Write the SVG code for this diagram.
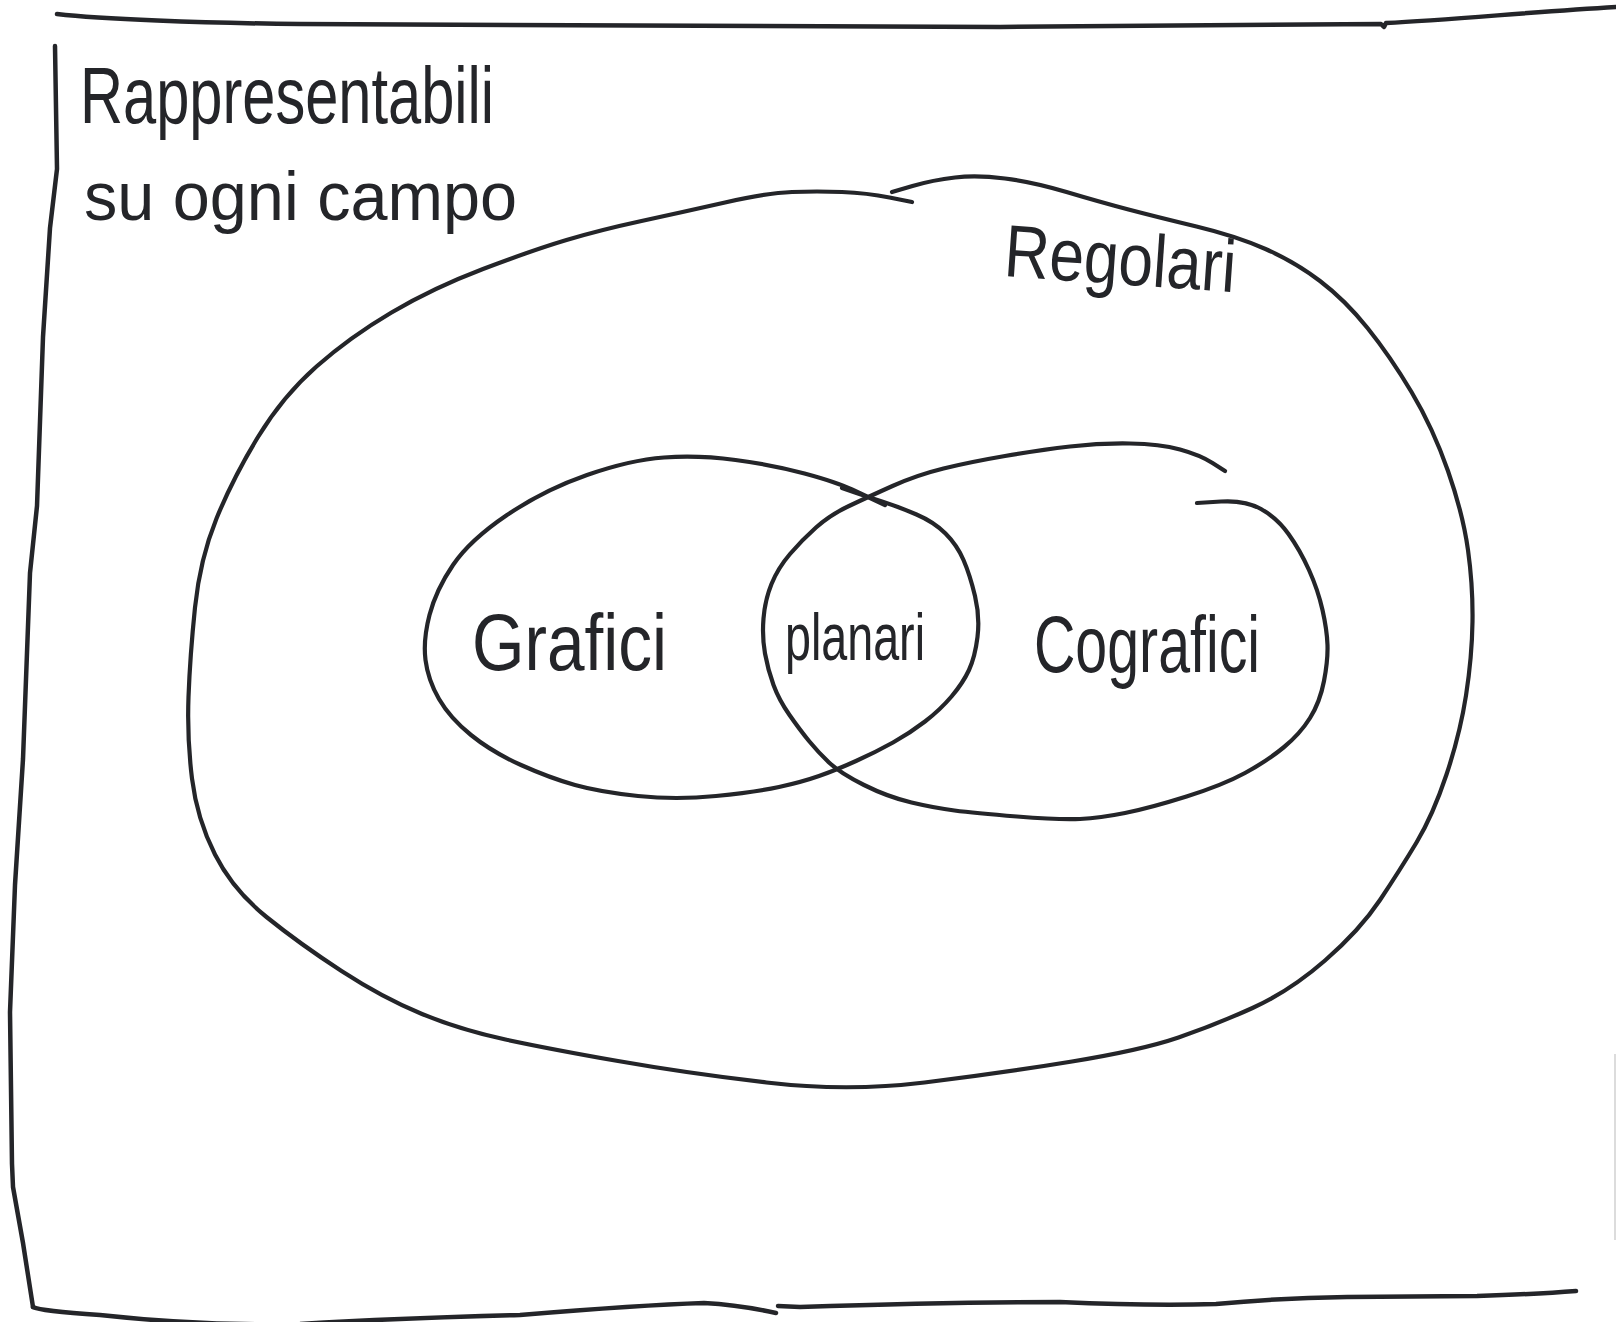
<svg xmlns="http://www.w3.org/2000/svg" width="1616" height="1322" viewBox="0 0 1616 1322">
  <style>
    .ink { fill: none; stroke: #242529; stroke-width: 4.2; stroke-linecap: round; stroke-linejoin: round; }
    .frame { stroke-width: 4.5; }
    .faint { fill: none; stroke: #d0d0d0; stroke-width: 1.5; }
    .hand { font-family: "Liberation Sans", "DejaVu Sans", sans-serif; fill: #242529; }
  </style>
  <rect width="1616" height="1322" fill="#ffffff"/>

  <g id="universe">
    <path class="ink frame" d="M 57,14 C 100,19 200,23 300,24 L 1000,27 L 1381,24 L 1384,27 L 1386,23 C 1450,20 1530,12 1616,7"/>
    <path class="ink frame" d="M 55,46 L 57,169 L 50,228 L 43,337 L 37,506 L 30,573 L 23,759 L 15,885 L 10,1012 L 12,1164 L 13,1187 L 23,1243 L 33,1307"/>
    <path class="ink frame" d="M 33,1307 Q 40,1311 100,1315 Q 200,1326 300,1324 Q 400,1318 520,1315 Q 640,1305 704,1303 Q 740,1305 776,1313"/>
    <path class="ink frame" d="M 778,1306 L 800,1307 Q 950,1302 1060,1302 Q 1150,1306 1216,1304 Q 1280,1298 1347,1297 L 1477,1296 Q 1540,1294 1576,1291"/>
    <path class="faint" d="M 1615,1054 L 1615,1240"/>
    <text class="hand" x="80" y="123" font-size="80" textLength="414" lengthAdjust="spacingAndGlyphs">Rappresentabili</text>
    <text class="hand" x="84" y="220" font-size="68" textLength="433" lengthAdjust="spacingAndGlyphs">su ogni campo</text>
  </g>

  <g id="regolari">
    <path class="ink" d="M 892,192 L 912.5,186 Q 933,180 955,177.5 Q 977,175 1005,178.5 Q 1033,182 1066.5,192 Q 1100,202 1128.5,209.5 Q 1157,217 1196.5,226.5 Q 1236,236 1265.5,249 Q 1295,262 1320,281 Q 1345,300 1367.5,328 Q 1390,356 1411.5,392 Q 1433,428 1448,471 Q 1463,514 1468,550 Q 1473,586 1472.5,621.5 Q 1472,657 1466,695.5 Q 1460,734 1446.5,774.5 Q 1433,815 1416.5,842.5 Q 1400,870 1380,900 Q 1360,930 1325,960.5 Q 1290,991 1252.5,1008 Q 1215,1025 1178.5,1037.5 Q 1142,1050 1072,1061.5 Q 1002,1073 924.5,1082.5 Q 847,1092 766.5,1082.5 Q 686,1073 618,1061 Q 550,1049 505.5,1039.5 Q 461,1030 422,1014 Q 383,998 341.5,971 Q 300,944 266.5,917 Q 233,890 215,854.5 Q 197,819 192,778.5 Q 187,738 188.5,697 Q 190,656 195,607.5 Q 200,559 216.5,518.5 Q 233,478 258,437 Q 283,396 316.5,366.5 Q 350,337 391.5,312.5 Q 433,288 483,269 Q 533,250 566.5,240 Q 600,230 641.5,221 Q 683,212 725,202.5 Q 767,193 792,192 Q 817,191 842,192 Q 867,193 889.5,197.5 L 912,202"/>
    <text class="hand" x="1003" y="276" font-size="74" textLength="232" lengthAdjust="spacingAndGlyphs" transform="rotate(4 1003 276)">Regolari</text>
  </g>

  <g id="grafici">
    <path class="ink" d="M 842,488 L 855,492.5 Q 868,497 883.5,502 Q 899,507 916.5,514.5 Q 934,522 945.5,533.5 Q 957,545 963.5,560 Q 970,575 975,596 Q 980,617 977.5,637 Q 975,657 969,670 Q 963,683 951.5,696.5 Q 940,710 925,721.5 Q 910,733 893,742.5 Q 876,752 856,761 Q 836,770 819,776 Q 802,782 779,787 Q 756,792 716,796 Q 676,800 638,796 Q 600,792 575,785 Q 550,778 521,765 Q 492,752 471,735 Q 450,718 439,699 Q 428,680 425.5,660 Q 423,640 429.5,615 Q 436,590 453,565 Q 470,540 507,515 Q 544,490 587,475 Q 630,460 664,457.5 Q 698,455 735.5,460 Q 773,465 804.5,473.5 Q 836,482 852,489.5 Q 868,497 885,505"/>
    <text class="hand" x="472" y="670" font-size="80" textLength="195" lengthAdjust="spacingAndGlyphs">Grafici</text>
  </g>

  <g id="cografici">
    <path class="ink" d="M 1225,471 L 1212.5,463 Q 1200,455 1180,449.5 Q 1160,444 1130,443.5 Q 1100,443 1070,446.5 Q 1040,450 1005,456 Q 970,462 943.5,468.5 Q 917,475 892.5,486 Q 868,497 849,506 Q 830,515 816,527.5 Q 802,540 790,554 Q 778,568 771.5,584 Q 765,600 763.5,618.5 Q 762,637 765,653.5 Q 768,670 773.5,685 Q 779,700 789.5,715 Q 800,730 809,741 Q 818,752 829,762.5 Q 840,773 864,785 Q 888,797 911.5,802.5 Q 935,808 954.5,810.5 Q 974,813 1017,816.5 Q 1060,820 1080,819 Q 1100,818 1125,813 Q 1150,808 1186.5,796.5 Q 1223,785 1245,773 Q 1267,761 1283.5,747.5 Q 1300,734 1310,718 Q 1320,702 1324,681 Q 1328,660 1327.5,645 Q 1327,630 1322.5,610 Q 1318,590 1309,570 Q 1300,550 1288.5,534 Q 1277,518 1261,509 Q 1245,500 1221,501.5 L 1197,503"/>
    <text class="hand" x="1034" y="672" font-size="80" textLength="226" lengthAdjust="spacingAndGlyphs">Cografici</text>
  </g>

  <g id="planari">
    <text class="hand" x="785" y="660" font-size="66" textLength="140" lengthAdjust="spacingAndGlyphs">planari</text>
  </g>

  <g id="connectors"></g>
</svg>
